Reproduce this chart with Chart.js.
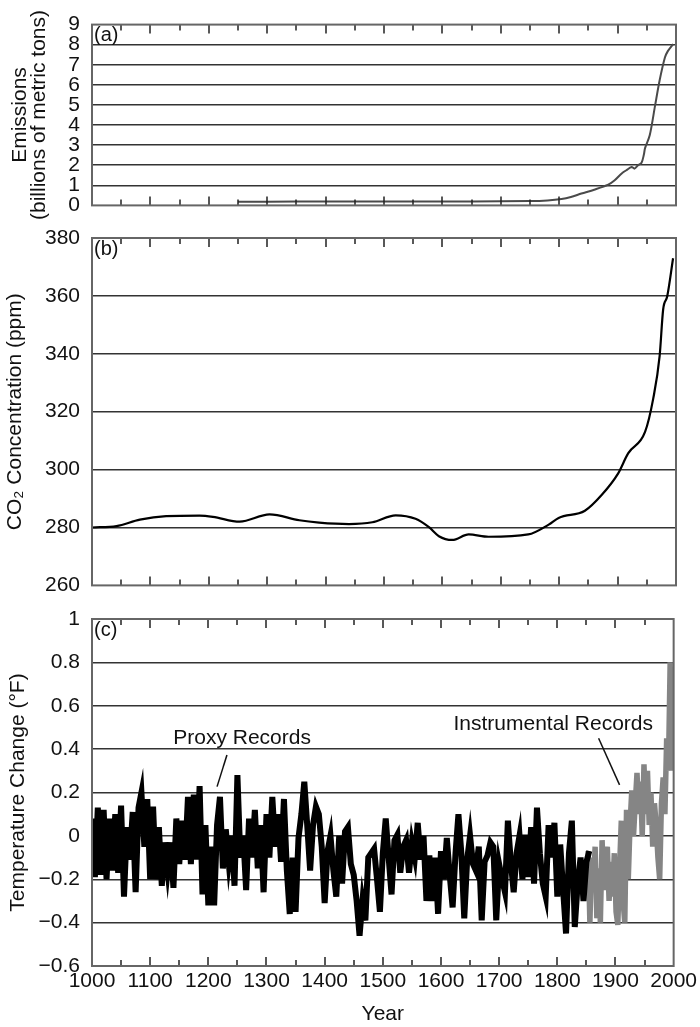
<!DOCTYPE html>
<html>
<head>
<meta charset="utf-8">
<script src="https://cdn.jsdelivr.net/npm/chart.js@4.4.1/dist/chart.umd.min.js"></script>
<style>
  body { margin: 0; background: #fff; }
  #wrap { position: relative; width: 700px; height: 1027px; }
  canvas { position: absolute; left: 0; }
</style>
</head>
<body>
<div id="wrap">
  <canvas id="emissions" width="700" height="230" style="top:0"></canvas>
  <canvas id="co2" width="700" height="400" style="top:210px"></canvas>
  <canvas id="temp" width="700" height="437" style="top:590px"></canvas>
</div>
<script>
// (a) fossil fuel emissions, billions of metric tons
const emYears = [1250, 1350, 1450, 1550, 1650, 1750, 1780, 1804, 1820, 1838, 1860, 1884, 1895, 1907, 1915,
  1924, 1929, 1935, 1941, 1945, 1947, 1955, 1964, 1972, 1981, 1986, 1995];
const emValues = [0.18, 0.19, 0.19, 0.2, 0.2, 0.22, 0.25, 0.32, 0.42, 0.59, 0.78, 1.03, 1.25, 1.59, 1.75,
  1.91, 1.83, 2.0, 2.12, 2.53, 2.85, 3.49, 4.94, 6.23, 7.36, 7.68, 8.03];

// (b) CO2 concentration, ppm
const co2Years = [1000, 1042, 1082, 1127, 1184, 1207, 1253, 1304, 1355, 1389, 1440, 1480, 1520, 1554, 1577,
  1594, 1617, 1645, 1679, 1747, 1782, 1799, 1844, 1873, 1901, 1918, 1947, 1961, 1972, 1978, 1985, 1995];
const co2Values = [280, 280.5, 282.7, 283.9, 284.1, 283.7, 282, 284.5, 282.5, 281.7, 281.2, 281.8, 284.2, 283, 280.1,
  277, 275.7, 277.6, 276.8, 277.6, 281, 283.3, 285.8, 291.3, 298.7, 305.6, 313, 324.5, 339.3, 355.3, 359.9, 373];

// (c) temperature change, degF - proxy records every 5 years from 1000
const proxyStart = 1000, proxyStep = 5;
const proxyValues = [
  0.08, -0.19, 0.13, -0.18, 0.12, -0.2, 0.08, -0.16, 0.1, -0.17,
  0.14, -0.28, 0.04, -0.11, 0.11, -0.26, 0.13, 0.2, -0.05, 0.17,
  -0.2, 0.135, -0.2, 0.04, -0.23, -0.03, -0.16, -0.03, -0.24, 0.08,
  -0.13, 0.07, -0.11, 0.18, -0.13, 0.19, -0.11, 0.23, -0.27, 0.05,
  -0.32, -0.05, -0.32, 0.05, 0.18, -0.15, 0.03, -0.12, 0.0, -0.23,
  0.28, -0.1, 0.0, -0.25, 0.08, -0.1, 0.12, -0.15, 0.05, -0.26,
  0.1, -0.1, 0.18, -0.05, 0.1, -0.12, 0.17, -0.16, -0.36, -0.1,
  -0.35, -0.01, 0.1, 0.25, 0.05, -0.16, 0.05, 0.135, 0.1, -0.05,
  -0.31, -0.07, 0.0, -0.16, -0.28, 0.0, -0.22, 0.02, 0.04, -0.13,
  -0.18, -0.3, -0.46, -0.3, -0.39, -0.1, -0.08, -0.06, -0.2, -0.35,
  -0.08, 0.08, -0.1, -0.27, -0.02, 0.005, -0.17, -0.05, -0.02, -0.17,
  -0.03, -0.1, 0.06, -0.11, 0.0, -0.3, -0.09, -0.3, -0.1, -0.36,
  -0.07, -0.2, -0.01, -0.18, -0.33, -0.08, 0.1, -0.08, -0.38, -0.11,
  0.0, -0.13, -0.16, -0.05, -0.39, -0.12, -0.09, -0.03, -0.05, -0.39,
  -0.13, -0.2, -0.26, 0.07, -0.12, -0.26, -0.08, 0.0, -0.2, 0.005,
  -0.19, 0.04, -0.22, 0.13, -0.08, -0.22, -0.28, 0.05, -0.1, 0.06,
  -0.28, -0.04, -0.25, -0.45, -0.08, 0.07, -0.42, -0.22, -0.1, -0.3,
  -0.12, -0.07
];
// instrumental records every 3 years from 1853
const instStart = 1853, instStep = 3;
const instValues = [
  -0.07, -0.4, -0.1, -0.25, -0.05, -0.38, -0.15, -0.4, -0.02, -0.25,
  -0.1, -0.05, -0.3, -0.12, -0.28, -0.08, -0.35, -0.41, -0.15, 0.07,
  -0.3, -0.4, 0.12, -0.2, 0.05, 0.21, 0.0, 0.15, 0.29, 0.1,
  0.25, 0.0, 0.33, 0.1, 0.3, 0.05, 0.2, -0.05, 0.15, 0.05,
  -0.1, -0.2, 0.15, 0.27, 0.1, 0.45, 0.3, 0.8, 0.3
];

const yearMin = 1000, yearMax = 2000, yearStep = 100;

const FONT = '"Liberation Sans", Arial, Helvetica, sans-serif';
Chart.defaults.font.family = FONT;
Chart.defaults.font.size = 21;
Chart.defaults.color = '#111';

const toPoints = (xs, ys) => ys.map((v, i) => ({ x: xs[i], y: v }));
const seqYears = (start, step, n) => Array.from({ length: n }, (_, i) => start + i * step);

// box round the plot, inward ticks every 50 years, panel letter
const framePlugin = {
  id: 'frame',
  afterDatasetsDraw(chart, args, opts) {
    const { ctx, chartArea: a } = chart;
    const x = chart.scales.x;
    ctx.save();
    ctx.strokeStyle = '#222';
    ctx.lineWidth = 1.5;
    for (let yr = yearMin + 50; yr < yearMax; yr += 50) {
      const px = Math.round(x.getPixelForValue(yr));
      const len = yr % 100 === 0 ? 9 : 6;
      ctx.beginPath();
      ctx.moveTo(px, a.top); ctx.lineTo(px, a.top + len);
      ctx.moveTo(px, a.bottom); ctx.lineTo(px, a.bottom - len);
      ctx.stroke();
    }
    ctx.strokeStyle = '#666';
    ctx.lineWidth = 2;
    ctx.strokeRect(a.left, a.top, a.right - a.left, a.bottom - a.top);
    ctx.fillStyle = '#111';
    ctx.font = '20px ' + FONT;
    ctx.textBaseline = 'top';
    ctx.fillText(opts.label, a.left + 2, a.top + 1);
    ctx.restore();
  }
};

// text labels with leader lines in panel (c)
const notes = [
  { text: 'Proxy Records', at: [1258, 0.452], from: [1232, 0.373], to: [1215, 0.227] },
  { text: 'Instrumental Records', at: [1793, 0.516], from: [1871, 0.45], to: [1907, 0.235] }
];
const notePlugin = {
  id: 'notes',
  afterDatasetsDraw(chart) {
    const { ctx } = chart;
    const { x, y } = chart.scales;
    ctx.save();
    ctx.font = '21px ' + FONT;
    ctx.fillStyle = '#111';
    ctx.strokeStyle = '#111';
    ctx.lineWidth = 1.5;
    ctx.textAlign = 'center';
    ctx.textBaseline = 'middle';
    notes.forEach(n => {
      ctx.fillText(n.text, x.getPixelForValue(n.at[0]), y.getPixelForValue(n.at[1]));
      ctx.beginPath();
      ctx.moveTo(x.getPixelForValue(n.from[0]), y.getPixelForValue(n.from[1]));
      ctx.lineTo(x.getPixelForValue(n.to[0]), y.getPixelForValue(n.to[1]));
      ctx.stroke();
    });
    ctx.restore();
  }
};

const gridColor = c => (c.index === 0 || c.index === c.chart.scales.y.ticks.length - 1) ? 'rgba(0,0,0,0)' : '#333';

function makeChart(id, opts) {
  return new Chart(document.getElementById(id), {
    type: 'line',
    data: { datasets: opts.datasets },
    plugins: opts.plugins,
    options: {
      responsive: false,
      animation: false,
      layout: { padding: opts.padding },
      elements: { point: { radius: 0 } },
      plugins: { legend: { display: false }, tooltip: { enabled: false }, frame: { label: opts.label } },
      scales: {
        x: {
          type: 'linear',
          min: yearMin, max: yearMax,
          display: opts.showX,
          grid: { display: false, drawTicks: false },
          border: { display: false },
          ticks: { stepSize: yearStep, padding: 3, maxRotation: 0, autoSkip: false, callback: v => String(v) },
          title: { display: true, text: 'Year', padding: 0 },
          afterFit: s => { if (opts.showX) s.height = 61; }
        },
        y: {
          min: opts.yMin, max: opts.yMax,
          grid: { color: gridColor, lineWidth: 1.5, drawTicks: false },
          border: { display: false },
          ticks: { stepSize: opts.yStep, padding: 12, autoSkip: false, callback: opts.yFmt },
          title: {
            display: true, text: opts.yTitle,
            font: { size: 21, lineHeight: opts.titleLH || 1.2 },
            padding: { top: opts.titlePad, bottom: 0 }
          },
          afterFit: s => { s.width = 92; }
        }
      }
    }
  });
}

makeChart('emissions', {
  label: '(a)', showX: false,
  padding: { left: 0, right: 24, top: 19, bottom: 24 },
  yMin: 0, yMax: 9, yStep: 1, yFmt: v => String(v),
  yTitle: ['Emissions', '(billions of metric tons)'], titlePad: 10.5, titleLH: 0.9,
  plugins: [framePlugin],
  datasets: [{ data: toPoints(emYears, emValues), borderColor: '#4a4a4a', borderWidth: 2, tension: 0.3 }]
});

makeChart('co2', {
  label: '(b)', showX: false,
  padding: { left: 0, right: 24, top: 28, bottom: 22 },
  yMin: 260, yMax: 380, yStep: 20, yFmt: v => String(v),
  yTitle: 'CO\u2082 Concentration (ppm)', titlePad: 3,
  plugins: [framePlugin],
  datasets: [{ data: toPoints(co2Years, co2Values), borderColor: '#000', borderWidth: 2.2, cubicInterpolationMode: 'monotone' }]
});

makeChart('temp', {
  label: '(c)', showX: true,
  padding: { left: 0, right: 24, top: 29, bottom: 0 },
  yMin: -0.6, yMax: 1, yStep: 0.2,
  yFmt: v => { const r = Math.round(v * 10) / 10; return (r < 0 ? '\u2212' : '') + String(Math.abs(r)); },
  yTitle: 'Temperature Change (\u00B0F)', titlePad: 6,
  plugins: [framePlugin, notePlugin],
  datasets: [
    { data: toPoints(seqYears(proxyStart, proxyStep, proxyValues.length), proxyValues), borderColor: '#000', borderWidth: 6 },
    { data: toPoints(seqYears(instStart, instStep, instValues.length), instValues), borderColor: '#858585', borderWidth: 5.5 }
  ]
});
</script>
</body>
</html>
